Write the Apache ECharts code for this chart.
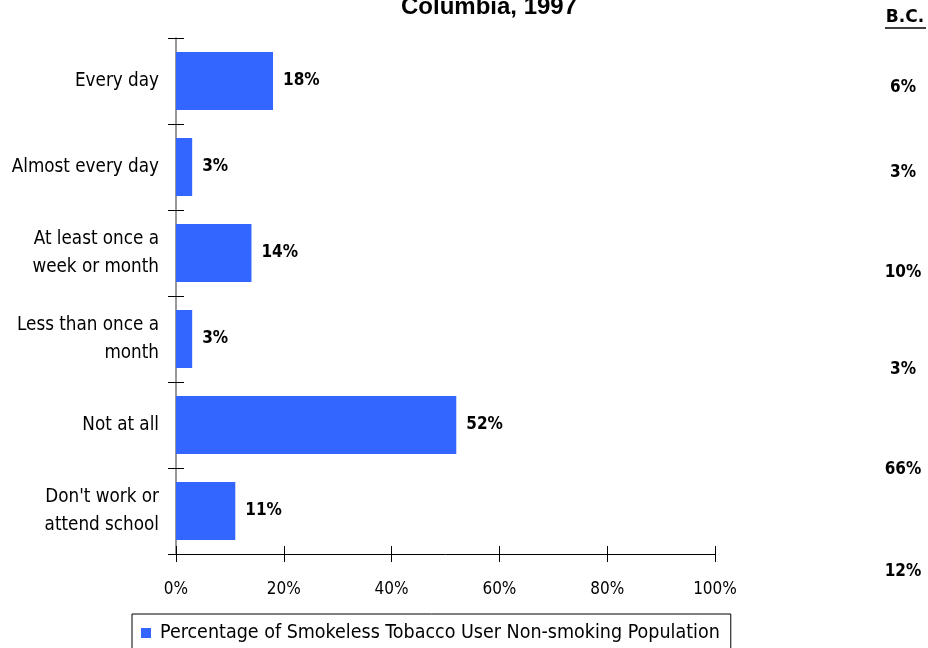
<!DOCTYPE html>
<html><head><meta charset="utf-8">
<script src="https://cdn.jsdelivr.net/npm/echarts@6/dist/echarts.min.js"></script>
<style>html,body{margin:0;padding:0;background:#fff}#c{width:928px;height:648px}</style>
</head><body><div id="c"></div>
<script>
const categories = ["Every day", "Almost every day", "At least once a\nweek or month", "Less than once a\nmonth", "Not at all", "Don't work or\nattend school"];
const columbiaValues = [18, 3, 14, 3, 52, 11];
const bcValues = [6, 3, 10, 3, 66, 12];
const xTicks = [0, 20, 40, 60, 80, 100];
const titleText = "Columbia, 1997";
const bcHeader = "B.C.";
const seriesName = "Percentage of Smokeless Tobacco User Non-smoking Population";

const FONT = "'DejaVu Sans Condensed', 'Liberation Sans', Arial, sans-serif";
const TFONT = "'Liberation Sans', Arial, sans-serif";
const bcTops = [88, 173, 273, 370, 470, 572];

const chart = echarts.init(document.getElementById('c'), null, {renderer: 'canvas'});
const graphics = [
  {type: 'text', x: 489, y: 7, style: {text: titleText, font: 'bold 24px ' + TFONT, fill: '#000', align: 'center', verticalAlign: 'middle'}},
  {type: 'text', x: 905, y: 18, style: {text: bcHeader, font: "bold 17px 'DejaVu Sans', sans-serif", fill: '#000', align: 'center', verticalAlign: 'middle'}},
  {type: 'line', shape: {x1: 885, y1: 28, x2: 926, y2: 28}, style: {stroke: '#000', lineWidth: 1.5}}
];
bcValues.forEach((v, i) => graphics.push({type: 'text', x: 903, y: bcTops[i], style: {text: v + '%', font: 'bold 17px ' + FONT, fill: '#000', align: 'center', verticalAlign: 'middle'}}));

const xCommon = {type: 'value', min: 0, max: 100, interval: 20, position: 'bottom', splitLine: {show: false}};

chart.setOption({
  animation: false,
  textStyle: {fontFamily: FONT},
  grid: {left: 176, right: 213, top: 38, bottom: 94},
  legend: {
    data: [seriesName], left: 132, top: 614, orient: 'horizontal',
    borderColor: '#000', borderWidth: 1, padding: [9, 11, 20, 9],
    itemWidth: 10, itemHeight: 10, itemGap: 5, icon: 'rect',
    textStyle: {fontSize: 19.5, color: '#000', fontFamily: FONT, padding: [0, 0, 0, 4]}
  },
  xAxis: [Object.assign({}, xCommon, {
    axisLine: {show: true, lineStyle: {color: '#000', width: 1}},
    axisTick: {show: true, length: 8, lineStyle: {color: '#000'}},
    axisLabel: {margin: 27, fontSize: 17, color: '#000', formatter: v => xTicks.includes(v) ? v + '%' : ''}
  }), Object.assign({}, xCommon, {
    axisLine: {show: false},
    axisTick: {show: true, inside: true, length: 8, lineStyle: {color: '#000'}},
    axisLabel: {show: false}
  })],
  yAxis: [{
    type: 'category', data: categories, inverse: true,
    axisLine: {show: true, lineStyle: {color: '#777', width: 1.5}},
    axisTick: {show: true, length: 8, lineStyle: {color: '#000'}},
    axisLabel: {margin: 17, fontSize: 18.7, color: '#000', lineHeight: 28, align: 'right'}
  }, {
    type: 'category', data: categories, inverse: true, position: 'left',
    axisLine: {show: false},
    axisTick: {show: true, inside: true, length: 8, lineStyle: {color: '#000'}},
    axisLabel: {show: false}
  }],
  series: [{
    name: seriesName, type: 'bar', data: columbiaValues, barWidth: 58,
    itemStyle: {color: '#3366FF'},
    label: {show: true, position: 'right', distance: 10, formatter: '{c}%', fontWeight: 'bold', fontSize: 17, color: '#000', fontFamily: FONT}
  }],
  graphic: graphics
});
</script></body></html>
